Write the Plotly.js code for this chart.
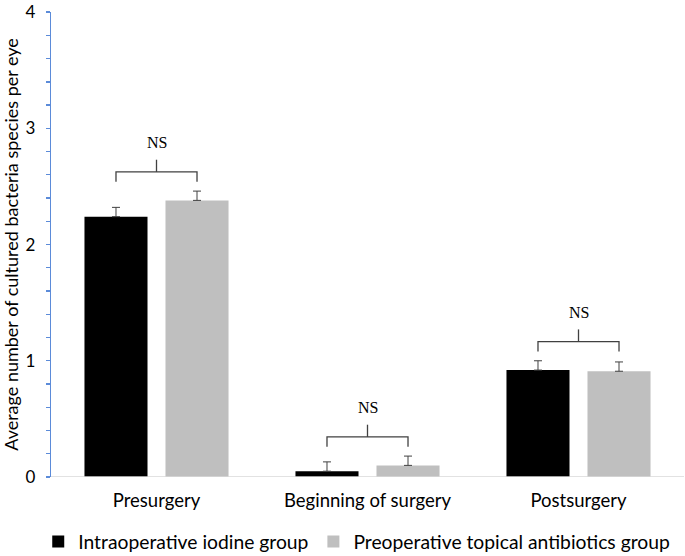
<!DOCTYPE html>
<html>
<head>
<meta charset="utf-8">
<script src="https://cdn.plot.ly/plotly-3.0.1.min.js"></script>
<style>html,body{margin:0;padding:0;background:#fff;}#chart{width:685px;height:556px;}</style>
</head>
<body>
<div id="chart"></div>
<script>
// ---- data ----
const categories = ["Presurgery", "Beginning of surgery", "Postsurgery"];
const iodineValues = [2.24, 0.05, 0.92];
const iodineErrors = [0.08, 0.08, 0.08];
const antibioticValues = [2.38, 0.10, 0.91];
const antibioticErrors = [0.08, 0.08, 0.08];
const seriesNames = ["Intraoperative iodine group", "Preoperative topical antibiotics group"];
const significance = ["NS", "NS", "NS"];

// ---- style ----
const labelFont = "Lato, 'Open Sans', sans-serif";
const bargap = 0.232, bargroupgap = 0.222;
const slotOffset = (1 - bargap) / 4; // centre of each bar relative to category

const traces = [
  {
    type: "bar", name: seriesNames[0], x: categories, y: iodineValues,
    marker: {color: "#000000"},
    error_y: {type: "data", array: iodineErrors, arrayminus: iodineErrors.map(() => 0), symmetric: false,
              color: "#404040", thickness: 1, width: 4}
  },
  {
    type: "bar", name: seriesNames[1], x: categories, y: antibioticValues,
    marker: {color: "#bfbfbf"},
    error_y: {type: "data", array: antibioticErrors, arrayminus: antibioticErrors.map(() => 0), symmetric: false,
              color: "#404040", thickness: 1, width: 4}
  }
];

// significance brackets computed from the bars
const shapes = [], annotations = [];
const lineStyle = {color: "#404040", width: 1.3};
categories.forEach((c, i) => {
  const top = Math.max(iodineValues[i] + iodineErrors[i], antibioticValues[i] + antibioticErrors[i]);
  const yLow = top + 0.08, yBar = yLow + 0.085, yTick = yBar + 0.105;
  const xL = i - slotOffset, xR = i + slotOffset;
  shapes.push({type: "path", xref: "x", yref: "y",
    path: `M ${xL} ${yLow} L ${xL} ${yBar} L ${xR} ${yBar} L ${xR} ${yLow}`, line: lineStyle});
  shapes.push({type: "line", xref: "x", yref: "y", x0: i, x1: i, y0: yBar, y1: yTick, line: lineStyle});
  annotations.push({x: i, y: yBar + 0.25, xref: "x", yref: "y", text: significance[i], showarrow: false,
    font: {family: "'Liberation Serif', 'Times New Roman', serif", size: 16, color: "#000"}});
});

const layout = {
  width: 685, height: 556,
  margin: {l: 51, r: 1, t: 12, b: 79, autoexpand: false},
  paper_bgcolor: "#ffffff", plot_bgcolor: "#ffffff",
  barmode: "group", bargap: bargap, bargroupgap: bargroupgap,
  showlegend: true,
  legend: {orientation: "h", x: 0.483, xanchor: "center", y: -0.098, yanchor: "top",
           font: {family: labelFont, size: 19.3, color: "#000"}, traceorder: "normal",
           itemwidth: 30, tracegroupgap: 0},
  xaxis: {
    type: "category", showgrid: false, zeroline: false, ticks: "",
    showline: false, ticklabelstandoff: 10,
    tickfont: {family: labelFont, size: 18.5, color: "#000"},
    range: [-0.5, 2.5]
  },
  yaxis: {
    range: [0, 4.001], dtick: 1, tick0: 0, showgrid: false, zeroline: false,
    showline: true, linecolor: "#5b8bd9", linewidth: 1.3,
    ticks: "outside", ticklen: 4, tickcolor: "#5b8bd9", tickwidth: 1.3,
    ticklabelstandoff: 7, ticklabeloverflow: "allow",
    minor: {dtick: 0.2, ticks: "outside", ticklen: 4, tickcolor: "#5b8bd9", tickwidth: 1.3, showgrid: false},
    tickfont: {family: labelFont, size: 17, color: "#000"},
    title: {text: "Average number of cultured bacteria species per eye",
            font: {family: labelFont, size: 18, color: "#000"}, standoff: 6}
  },
  shapes: [{type: "line", xref: "paper", yref: "y", x0: 0, x1: 1, y0: 0, y1: 0,
            line: {color: "#d9d9d9", width: 1.5}}].concat(shapes),
  annotations: annotations
};

Plotly.newPlot("chart", traces, layout, {displayModeBar: false, staticPlot: true});
</script>
</body>
</html>
